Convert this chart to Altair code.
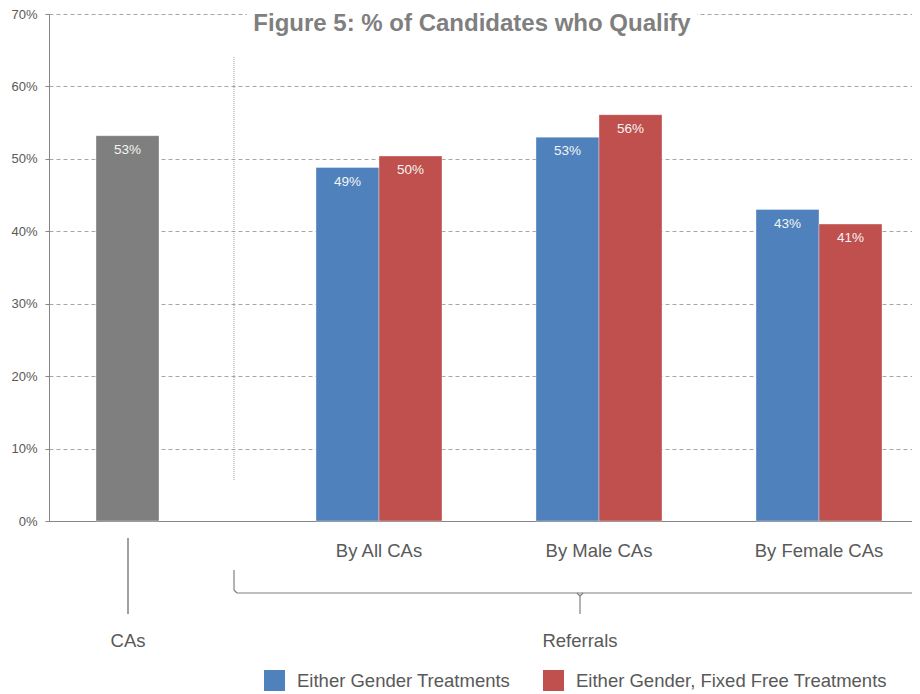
import altair as alt
import pandas as pd

# ---- data ----
categories = ["CAs", "By All CAs", "By Male CAs", "By Female CAs"]
referral_categories = ["By All CAs", "By Male CAs", "By Female CAs"]
series_names = ["Either Gender Treatments", "Either Gender, Fixed Free Treatments"]
ca_value = [0.532]
either_gender = [0.488, 0.530, 0.430]
fixed_free = [0.504, 0.561, 0.410]
y_ticks = [0.0, 0.1, 0.2, 0.3, 0.4, 0.5, 0.6, 0.7]
group_labels = ["CAs", "Referrals"]
title_text = "Figure 5: % of Candidates who Qualify"

BLUE = "#4f81bd"
RED = "#c0504d"
GRAY = "#7f7f7f"
TXT = "#595959"
FONT = "Liberation Sans"
BIG = 18.5

rows = [{"cat": "CAs", "slot": "A", "series": "CAs", "value": ca_value[0]}]
for c, a, b in zip(referral_categories, either_gender, fixed_free):
    rows.append({"cat": c, "slot": "A", "series": series_names[0], "value": a})
    rows.append({"cat": c, "slot": "B", "series": series_names[1], "value": b})
df = pd.DataFrame(rows)

x_enc = alt.X(
    "cat:N",
    sort=categories,
    scale=alt.Scale(domain=categories, range=[0, 880], paddingInner=0, paddingOuter=0),
    axis=alt.Axis(
        title=None,
        labelExpr="datum.label == 'CAs' ? '' : datum.label",
        labelAngle=0,
        ticks=False,
        labelPadding=20,
        labelFontSize=BIG,
        labelColor=TXT,
        labelFont=FONT,
        labelLimit=0,
        domainColor="#868686",
        domainWidth=1,
        labelBaseline="top",
    ),
)
xoff_enc = alt.XOffset(
    "slot:N", scale=alt.Scale(domain=["A", "B"], paddingInner=0, paddingOuter=0.746)
)
y_enc = alt.Y(
    "value:Q",
    scale=alt.Scale(domain=[0, 0.7], nice=False),
    axis=alt.Axis(
        title=None,
        values=y_ticks,
        format=".0%",
        grid=True,
        gridDash=[4, 3],
        gridColor="#a6a6a6",
        domainColor="#868686",
        tickColor="#868686",
        tickSize=4,
        labelColor=TXT,
        labelFontSize=13,
        labelFont=FONT,
        labelPadding=8,
    ),
)

base = alt.Chart(df)

bars = base.mark_bar(stroke="white", strokeWidth=0.6, strokeOpacity=0.6).encode(
    x=x_enc,
    xOffset=xoff_enc,
    y=y_enc,
    color=alt.Color(
        "series:N",
        scale=alt.Scale(domain=series_names + ["CAs"], range=[BLUE, RED, GRAY]),
        legend=alt.Legend(
            values=series_names,
            title=None,
            orient="none",
            legendX=215,
            legendY=656,
            direction="horizontal",
            symbolType="square",
            symbolSize=441,
            symbolStrokeWidth=0,
            labelFontSize=BIG,
            labelColor=TXT,
            labelFont=FONT,
            labelOffset=12,
            labelLimit=0,
            columnPadding=32,
            padding=0,
        ),
    ),
)

labels = base.mark_text(dy=14, color="#f4f4f4", fontSize=13.5, font=FONT).encode(
    x=alt.X("cat:N", sort=categories),
    xOffset="slot:N",
    y="value:Q",
    text=alt.Text("value:Q", format=".0%"),
)

one = pd.DataFrame({"k": [0]})

title_bg = alt.Chart(one).mark_rect(color="white").encode(
    x=alt.value(198), x2=alt.value(648), y=alt.value(-8), y2=alt.value(14)
)
title = alt.Chart(one).mark_text(
    text=title_text, fontSize=24, fontWeight="bold", color=GRAY, font=FONT
).encode(x=alt.value(423), y=alt.value(10))

sep = alt.Chart(one).mark_rule(color="#a0a0a0", strokeDash=[1, 1], strokeWidth=1).encode(
    x=alt.value(185), y=alt.value(43), y2=alt.value(467)
)

line_col = "#808080"
ca_line = alt.Chart(one).mark_rule(color=line_col, strokeWidth=1.5).encode(
    x=alt.value(79), y=alt.value(524), y2=alt.value(600)
)
br_left = alt.Chart(one).mark_rule(color=line_col, strokeWidth=1.2).encode(
    x=alt.value(185), y=alt.value(556), y2=alt.value(576)
)
br_horiz = alt.Chart(one).mark_rule(color=line_col, strokeWidth=1.2).encode(
    x=alt.value(188), x2=alt.value(880), y=alt.value(579)
)
br_corner = alt.Chart(one).mark_rule(color=line_col, strokeWidth=1.2).encode(
    x=alt.value(185), x2=alt.value(188), y=alt.value(576), y2=alt.value(579)
)
br_mid = alt.Chart(one).mark_rule(color=line_col, strokeWidth=1.2).encode(
    x=alt.value(531), y=alt.value(581), y2=alt.value(600)
)
br_mid_l = alt.Chart(one).mark_rule(color=line_col, strokeWidth=1.2).encode(
    x=alt.value(528), x2=alt.value(531), y=alt.value(579), y2=alt.value(582)
)
br_mid_r = alt.Chart(one).mark_rule(color=line_col, strokeWidth=1.2).encode(
    x=alt.value(534), x2=alt.value(531), y=alt.value(579), y2=alt.value(582)
)

grp_df = pd.DataFrame({"label": group_labels, "px": [79, 531]})
groups = alt.Chart(grp_df).mark_text(fontSize=BIG, color=TXT, font=FONT).encode(
    x=alt.X("px:Q", scale=None), y=alt.value(627), text="label:N"
)

chart = alt.layer(
    bars, labels, title_bg, title, sep, ca_line, br_left, br_horiz, br_corner,
    br_mid, br_mid_l, br_mid_r, groups
).properties(
    width=863,
    height=507,
    autosize=alt.AutoSizeParams(type="none"),
    padding={"left": 41, "top": 6, "right": 0, "bottom": 173},
).configure_view(stroke=None)

chart.save("out.html", embed_options={"renderer": "svg", "actions": False})
